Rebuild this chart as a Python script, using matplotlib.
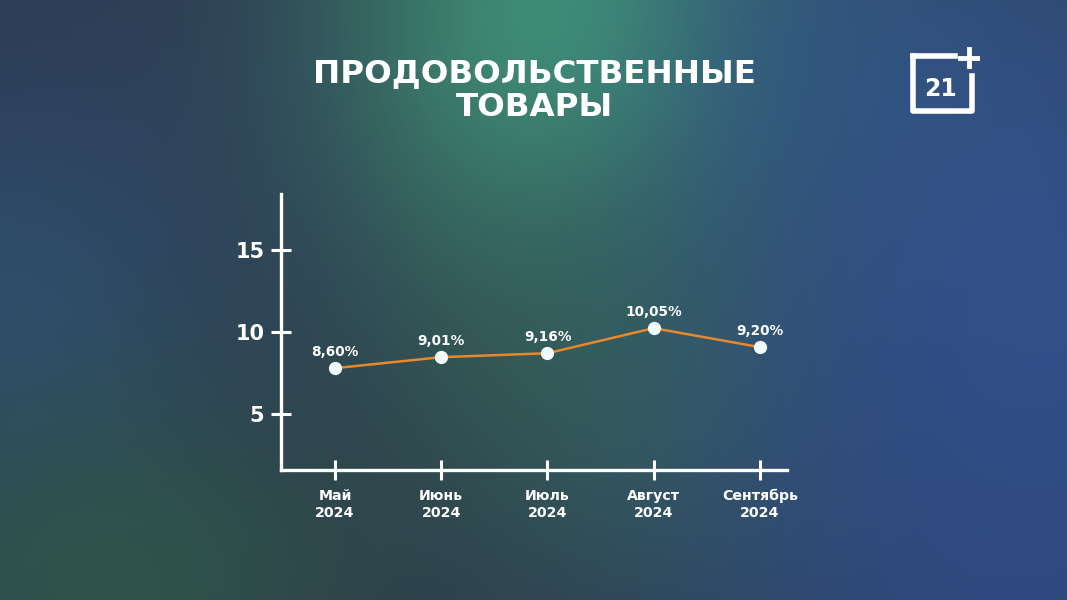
import numpy as np
import matplotlib.pyplot as plt
import matplotlib.transforms as mtransforms

plt.rcParams['font.family'] = ['DejaVu Sans']

months = ['Май', 'Июнь', 'Июль', 'Август', 'Сентябрь']
years = ['2024', '2024', '2024', '2024', '2024']
# y positions as drawn on the picture, labels as printed
plotted = [7.82, 8.49, 8.73, 10.26, 9.10]
labels = ['8,60%', '9,01%', '9,16%', '10,05%', '9,20%']
yticks = [5, 10, 15]

W, H = 1067, 600
fig = plt.figure(figsize=(W / 100, H / 100), dpi=100)

# background glow
yy, xx = np.mgrid[0:H, 0:W]
img = np.zeros((H, W, 3))
img[:] = np.array([0x2d, 0x38, 0x4a]) / 255
blobs = [
    # cx, cy, sx, sy, colour, strength
    (80, 80, 200, 150, (0x2e, 0x3d, 0x5a), 0.6),
    (570, 30, 170, 200, (0x42, 0x9a, 0x78), 0.95),
    (660, 380, 170, 170, (0x35, 0x65, 0x52), 0.75),
    (1030, 330, 220, 300, (0x33, 0x52, 0x90), 0.95),
    (880, 60, 150, 150, (0x31, 0x58, 0x8a), 0.6),
    (0, 320, 160, 160, (0x2f, 0x52, 0x74), 0.8),
    (110, 590, 180, 140, (0x2f, 0x5c, 0x48), 0.75),
    (980, 590, 200, 200, (0x2d, 0x4a, 0x82), 0.6),
]
for cx, cy, sx, sy, c, a in blobs:
    w = a * np.exp(-((xx - cx) ** 2 / (2 * sx ** 2) + (yy - cy) ** 2 / (2 * sy ** 2)))
    img = img * (1 - w[..., None]) + np.array(c)[None, None, :] / 255 * w[..., None]
bg = fig.add_axes([0, 0, 1, 1])
bg.imshow(img, aspect='auto', extent=[0, W, H, 0])
bg.set_xlim(0, W)
bg.set_ylim(H, 0)
bg.axis('off')

# title
fig.text(534 / W, 1 - 74 / H, 'ПРОДОВОЛЬСТВЕННЫЕ', color='white', fontsize=23.4,
         fontweight='bold', ha='center', va='center')
fig.text(534 / W, 1 - 107 / H, 'ТОВАРЫ', color='white', fontsize=23.4,
         fontweight='bold', ha='center', va='center')

# logo
bg.plot([913, 913, 972, 972], [56, 111, 111, 76], color='white', lw=4, solid_capstyle='projecting')
bg.plot([913, 955], [56, 56], color='white', lw=4, solid_capstyle='projecting')
bg.plot([960, 977], [58, 58], color='white', lw=3.5)
bg.plot([968.5, 968.5], [49, 66], color='white', lw=3.5)
bg.text(941, 89, '21', color='white', fontsize=17, fontweight='bold', ha='center', va='center')

# chart
ax = fig.add_axes([281 / W, 1 - 470 / H, (787 - 281) / W, (470 - 194) / H])
ax.patch.set_alpha(0)
x = np.arange(len(months))
ax.plot(x, plotted, color='#e8882c', lw=1.8, zorder=2)
ax.plot(x, plotted, 'o', color='#f2fbfb', ms=8.5, zorder=3)
for xi, yi, lab in zip(x, plotted, labels):
    ax.annotate(lab, (xi, yi), xytext=(0, 6.5), textcoords='offset points', ha='center',
                va='bottom', color='white', fontsize=9.8, fontweight='bold')

ax.set_xlim(-0.508, 4.254)
ax.set_ylim(1.61, 18.44)
ax.set_xticks(x)
ax.set_xticklabels([])
# two-line month labels, baseline aligned
trans = mtransforms.blended_transform_factory(ax.transData, ax.transAxes)
for xi, m, yr in zip(x, months, years):
    ax.annotate(m, (xi, 0), xycoords=trans, xytext=(0, -21.5), textcoords='offset points',
                ha='center', va='baseline', color='white', fontsize=10.2, fontweight='bold')
    ax.annotate(yr, (xi, 0), xycoords=trans, xytext=(0, -34), textcoords='offset points',
                ha='center', va='baseline', color='white', fontsize=10.2, fontweight='bold')
ax.set_yticks(yticks)
ax.set_yticklabels([str(v) for v in yticks], fontsize=15, fontweight='bold', color='white')
ax.tick_params(axis='both', direction='inout', length=14, width=2.2, color='white')
ax.tick_params(axis='y', pad=5)
for s in ['top', 'right']:
    ax.spines[s].set_visible(False)
for s in ['left', 'bottom']:
    ax.spines[s].set_color('white')
    ax.spines[s].set_linewidth(2.4)

fig.savefig('out.png', dpi=100)
